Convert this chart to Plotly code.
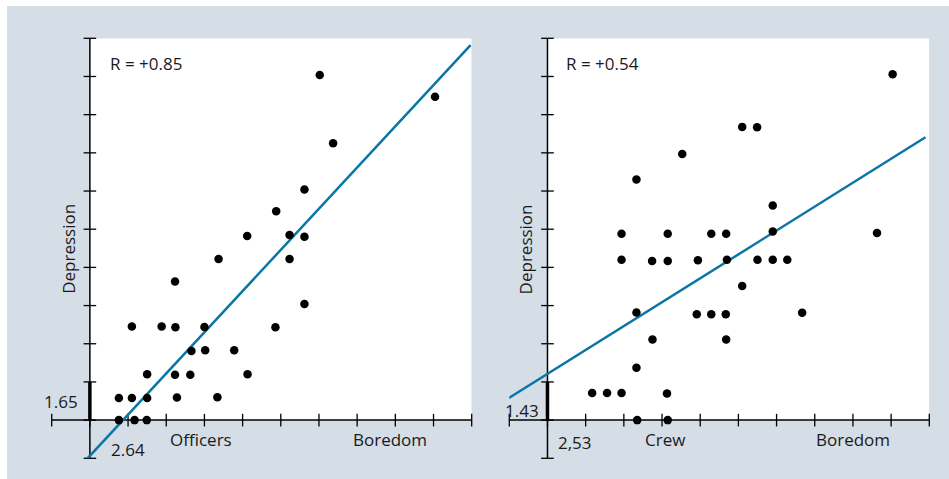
import plotly.graph_objects as go

# ---------------- data (in axis tick units) ----------------
off_x = [6.02, 9.04, 6.37, 5.62, 4.88, 4.12, 5.23, 5.62, 3.37, 5.23, 2.23, 5.62,
         1.10, 1.88, 2.24, 3.00, 4.86, 2.66, 3.02, 3.78, 1.50, 2.23, 2.63, 4.13,
         0.76, 1.10, 1.50, 2.28, 3.34, 0.76, 1.17, 1.49]
off_y = [9.04, 8.47, 7.25, 6.04, 5.47, 4.82, 4.85, 4.80, 4.22, 4.22, 3.63, 3.04,
         2.45, 2.45, 2.43, 2.44, 2.43, 1.81, 1.83, 1.83, 1.20, 1.19, 1.19, 1.20,
         0.58, 0.58, 0.58, 0.59, 0.60, 0.00, 0.00, 0.00]

crew_x = [9.04, 5.10, 5.49, 3.53, 2.33, 5.90, 1.94, 3.15, 4.29, 4.68, 5.90, 8.63,
          1.94, 2.74, 3.15, 3.94, 4.70, 5.50, 5.90, 6.28, 5.10, 2.33, 3.91, 4.29,
          4.67, 6.67, 2.75, 4.68, 2.33, 1.17, 1.56, 1.94, 3.13, 2.35, 3.15]
crew_y = [9.06, 7.68, 7.67, 6.97, 6.30, 5.62, 4.88, 4.88, 4.88, 4.88, 4.94, 4.90,
          4.20, 4.17, 4.17, 4.19, 4.20, 4.20, 4.20, 4.20, 3.51, 2.82, 2.77, 2.77,
          2.77, 2.81, 2.11, 2.11, 1.37, 0.71, 0.71, 0.71, 0.70, 0.00, 0.00]

# regression lines: intercept, slope, x extent
off_fit = dict(b=-0.936, m=1.079, x0=-0.087, x1=9.97)
crew_fit = dict(b=1.21, m=0.626, x0=-1.01, x1=9.90)

off_r = "R = +0.85"
crew_r = "R = +0.54"
off_group, crew_group = "Officers", "Crew"
off_xlab, off_ylab = "2.64", "1.65"
crew_xlab, crew_ylab = "2,53", "1.43"
x_title, y_title = "Boredom", "Depression"

tick_vals = list(range(-1, 11))
axis_min, axis_max = -1, 10
mark_seg = [0, 1]

# ---------------- styling ----------------
W, H = 949, 479
BG = "#d5dde6"
LINE = "#0a76a6"
FONT = "Open Sans, Arial, sans-serif"
TXT = "#1a1a1a"

fig = go.Figure()

panels = [
    dict(xa="x", ya="y", px=off_x, py=off_y, fit=off_fit, r=off_r, grp=off_group,
         xl=off_xlab, yl=off_ylab, grp_x=2.91, xl_x=0.5, xl_y=-0.76, yl_x=-0.26, yl_y=0.5,
         bor_x=7.86, r_x=0.47),
    dict(xa="x2", ya="y2", px=crew_x, py=crew_y, fit=crew_fit, r=crew_r, grp=crew_group,
         xl=crew_xlab, yl=crew_ylab, grp_x=3.08, xl_x=0.21, xl_y=-0.58, yl_x=-0.17, yl_y=0.26,
         bor_x=7.99, r_x=0.42),
]

shapes = [dict(type="rect", xref="paper", yref="paper", x0=7 / W, x1=1, y0=0, y1=1 - 6 / H,
               fillcolor=BG, line=dict(width=0), layer="below")]
annotations = []

for p in panels:
    xa, ya = p["xa"], p["ya"]
    shapes.append(dict(type="rect", xref=xa, yref=ya, x0=0, x1=axis_max, y0=0, y1=axis_max,
                       fillcolor="white", line=dict(width=0), layer="below"))
    fig.add_trace(go.Scatter(x=[axis_min, axis_max], y=[0, 0], mode="lines",
                             line=dict(color="black", width=1.5), xaxis=xa, yaxis=ya,
                             hoverinfo="skip", showlegend=False))
    fig.add_trace(go.Scatter(x=[0, 0], y=[axis_min, axis_max], mode="lines",
                             line=dict(color="black", width=1.5), xaxis=xa, yaxis=ya,
                             hoverinfo="skip", showlegend=False))
    fig.add_trace(go.Scatter(x=tick_vals, y=[0] * len(tick_vals), mode="markers",
                             marker=dict(symbol="line-ns", size=9,
                                         line=dict(color="black", width=1.3)),
                             xaxis=xa, yaxis=ya, hoverinfo="skip", showlegend=False,
                             cliponaxis=False))
    fig.add_trace(go.Scatter(x=[0] * len(tick_vals), y=tick_vals, mode="markers",
                             marker=dict(symbol="line-ew", size=9,
                                         line=dict(color="black", width=1.3)),
                             xaxis=xa, yaxis=ya, hoverinfo="skip", showlegend=False,
                             cliponaxis=False))
    fig.add_trace(go.Scatter(x=[0, 0], y=mark_seg, mode="lines",
                             line=dict(color="black", width=3.5), xaxis=xa, yaxis=ya,
                             hoverinfo="skip", showlegend=False))
    f = p["fit"]
    lx = [f["x0"], f["x1"]]
    ly = [f["b"] + f["m"] * v for v in lx]
    fig.add_trace(go.Scatter(x=lx, y=ly, mode="lines", line=dict(color=LINE, width=2.5),
                             xaxis=xa, yaxis=ya, hoverinfo="skip", showlegend=False))
    fig.add_trace(go.Scatter(x=p["px"], y=p["py"], mode="markers",
                             marker=dict(color="black", size=8.5),
                             xaxis=xa, yaxis=ya, showlegend=False, cliponaxis=False))

    fnt = dict(family=FONT, size=17, color=TXT)
    annotations += [
        dict(x=p["r_x"], y=9.35, xref=xa, yref=ya, text=p["r"],
             showarrow=False, xanchor="left", yanchor="middle", font=fnt),
        dict(x=p["grp_x"], y=-0.52, xref=xa, yref=ya, text=p["grp"], showarrow=False,
             xanchor="center", yanchor="middle", font=fnt),
        dict(x=p["bor_x"], y=-0.52, xref=xa, yref=ya, text=x_title, showarrow=False,
             xanchor="center", yanchor="middle", font=fnt),
        dict(x=p["xl_x"], y=p["xl_y"], xref=xa, yref=ya, text=p["xl"], showarrow=False,
             xanchor="left", yanchor="middle", font=fnt),
        dict(x=p["yl_x"], y=p["yl_y"], xref=xa, yref=ya, text=p["yl"], showarrow=False,
             xanchor="right", yanchor="middle", font=fnt),
        dict(x=-0.58, y=4.48, xref=xa, yref=ya, text=y_title, showarrow=False,
             textangle=-90, xanchor="center", yanchor="middle", font=fnt),
    ]

ax_common = dict(range=[axis_min, axis_max], showgrid=False, zeroline=False,
                 showticklabels=False, ticks="", showline=False, fixedrange=True)

y_dom = [1 - 458.3 / H, 1 - 38.3 / H]
fig.update_layout(
    width=W, height=H,
    margin=dict(l=0, r=0, t=0, b=0),
    paper_bgcolor="white",
    plot_bgcolor="rgba(0,0,0,0)",
    xaxis=dict(domain=[51.7 / W, 471.7 / W], anchor="y", **ax_common),
    yaxis=dict(domain=y_dom, anchor="x", **ax_common),
    xaxis2=dict(domain=[509.3 / W, 929.3 / W], anchor="y2", **ax_common),
    yaxis2=dict(domain=y_dom, anchor="x2", **ax_common),
    shapes=shapes,
    annotations=annotations,
    showlegend=False,
)

fig.write_html("out.html", config={"displayModeBar": False},
               post_script="document.body.style.margin='0';document.body.style.overflow='hidden';")
